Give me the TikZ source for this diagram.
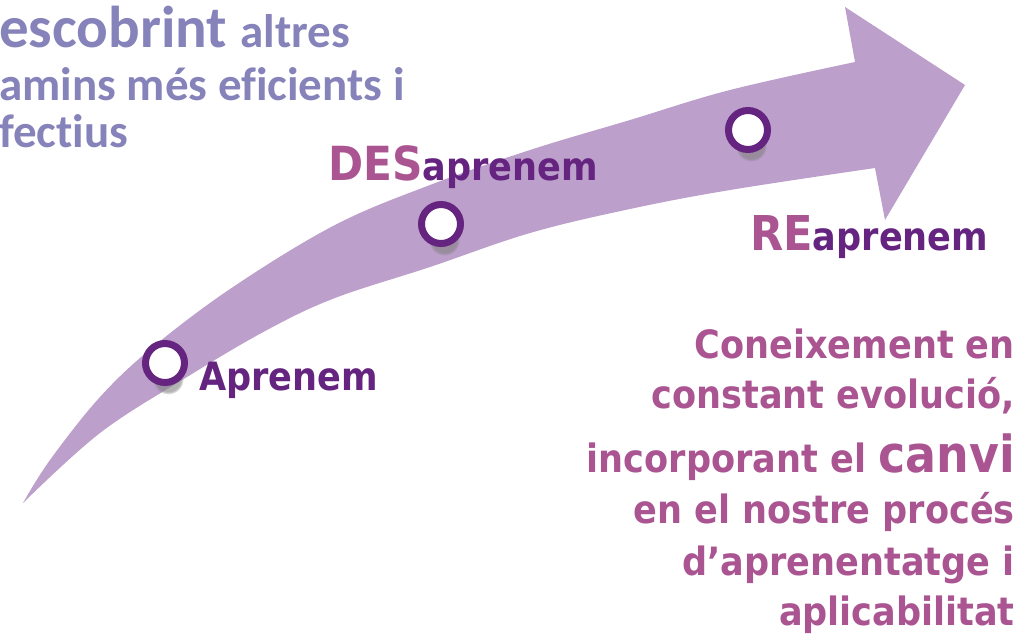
\documentclass[tikz,border=0pt]{standalone}
\usepackage{fontspec}
\newfontfamily\mainf{DejaVu Sans Condensed}
\newfontfamily\topf{Carlito}[Ligatures=NoCommon]
\usetikzlibrary{shadows}
\definecolor{topcol}{HTML}{8683BA}
\definecolor{pinkc}{HTML}{AA5592}
\definecolor{darkc}{HTML}{65247F}
\definecolor{arrowc}{HTML}{BC9FCA}
\newcommand{\fs}[1]{\fontsize{#1}{#1}\selectfont}
\tikzset{
  ring/.style={circle, draw=darkc, fill=white, line width=7pt, minimum size=39pt, inner sep=0pt,
    circular drop shadow={shadow xshift=4pt, shadow yshift=-20pt, shadow scale=0.8, opacity=0.6,
      path fading={circle with fuzzy edge 20 percent}}},
  lbl/.style={inner sep=0pt, font=\mainf\bfseries},
  toplbl/.style={inner sep=0pt, font=\topf\bfseries, text=topcol, anchor=base west},
  rlbl/.style={lbl, text=pinkc, anchor=base east},
}
\begin{document}
\begin{tikzpicture}[x=1pt, y=-1pt]
\useasboundingbox (0,0) rectangle (1018,633);
% arrow
\fill[arrowc] plot[smooth, tension=0.6] coordinates {(23,503) (50,460) (100,397) (153,347) (233,287) (335,225) (430,185) (530,150) (630,120) (730,90) (855,62)}
  -- (845,7) -- (965,85) -- (885,220) -- (875,168)
  -- plot[smooth, tension=0.6] coordinates {(875,168) (730,190) (630,209) (530,233) (430,267) (335,298) (267,330) (187,377) (100,433) (23,503)} -- cycle;
% top-left text
\node[toplbl] (t1) at (-1,47) {{\fs{59}escobrint }{\fs{47}altres}};
\node[toplbl] (t2) at (-1,100) {\fs{47}amins més eficients i};
\node[toplbl] (t3) at (-1,147) {\fs{47}fectius};
% rings
\node[ring] (c1) at (165,363) {};
\node[ring] (c2) at (441,224) {};
\node[ring] (c3) at (748,130) {};
% stage labels
\node[lbl, text=darkc, anchor=base west] (l1) at (199,390) {\fs{39}Aprenem};
\node[lbl, text=darkc, anchor=base west] (l2) at (328,180) {{\color{pinkc}\fs{47}DES}{\fs{39}aprenem}};
\node[lbl, text=darkc, anchor=base west] (l3) at (750,250) {{\color{pinkc}\fs{48}RE}{\fs{39}aprenem}};
% right text
\node[rlbl] (r1) at (1015,358) {\fs{39}Coneixement en};
\node[rlbl] (r2) at (1015,408) {\fs{39}constant evolució,};
\node[rlbl] (r3) at (1015,472) {{\fs{39}incorporant el }{\fs{51}canvi}};
\node[rlbl] (r4) at (1015,523) {\fs{39}en el nostre procés};
\node[rlbl] (r5) at (1015,575) {\fs{39}d’aprenentatge i};
\node[rlbl] (r6) at (1015,625) {\fs{39}aplicabilitat};
\end{tikzpicture}
\end{document}
